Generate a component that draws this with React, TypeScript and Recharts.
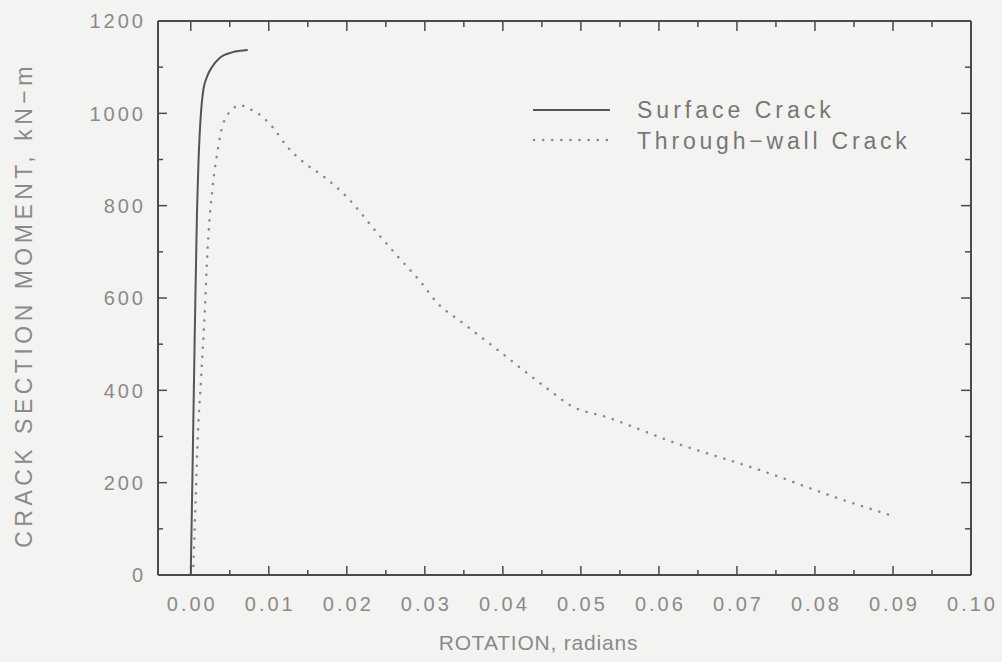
import React from 'react';
import { LineChart, Line, XAxis, YAxis, Legend } from 'recharts';

const surfaceRot = [0, 0.0002, 0.0005, 0.0008, 0.001, 0.0013, 0.0016, 0.0021, 0.0027, 0.0037, 0.0053, 0.0073];
const surfaceMoment = [0, 200, 510, 790, 900, 1000, 1050, 1080, 1100, 1120, 1132, 1137];

const throughRot = [
  0.0003, 0.0006, 0.0009, 0.0013, 0.0017, 0.0022, 0.0028, 0.0035, 0.0041, 0.0053, 0.0063, 0.0073, 0.0086,
  0.0105, 0.0124, 0.0146, 0.0168, 0.02, 0.0238, 0.0267, 0.0296, 0.0315, 0.0347, 0.039, 0.0456, 0.0488,
  0.0533, 0.0618, 0.073, 0.0832, 0.09,
];
const throughMoment = [
  0, 150, 300, 420, 540, 720, 840, 925, 975, 1008, 1018, 1011, 1000, 970, 927, 892, 866, 819, 743, 687, 632,
  591, 548, 492, 405, 366, 342, 288, 227, 165, 128,
];

const xMajor = [0, 0.01, 0.02, 0.03, 0.04, 0.05, 0.06, 0.07, 0.08, 0.09, 0.1];
const xMinor = [0.005, 0.015, 0.025, 0.035, 0.045, 0.055, 0.065, 0.075, 0.085, 0.095];
const yMajor = [0, 200, 400, 600, 800, 1000, 1200];
const yMinor = [100, 300, 500, 700, 900, 1100];

const surfaceData = surfaceRot.map((r, i) => ({ r, m: surfaceMoment[i] }));
const throughData = throughRot.map((r, i) => ({ r, m: throughMoment[i] }));

const FRAME = '#4a4a4a';
const TEXT = '#8a8a8a';
const FONT = '"Liberation Sans", Arial, sans-serif';

const isMajorX = (v: number) => Math.abs(v * 100 - Math.round(v * 100)) < 1e-6;
const isMajorY = (v: number) => v % 200 === 0;

function BottomTick(props: any) {
  const { x, y, payload } = props;
  const major = isMajorX(payload.value);
  const axisY = y - 21;
  return (
    <g>
      <line x1={x} y1={axisY} x2={x} y2={axisY - (major ? 9 : 5)} stroke={FRAME} strokeWidth={1.5} />
      {major && (
        <text x={x} y={y} dx={1.5} dy="0.75em" textAnchor="middle" fill={TEXT} fontSize={20} letterSpacing={3} fontFamily={FONT}>
          {payload.value.toFixed(2)}
        </text>
      )}
    </g>
  );
}

function TopTick(props: any) {
  const { x, y, payload } = props;
  const major = isMajorX(payload.value);
  const axisY = y + 1;
  return <line x1={x} y1={axisY} x2={x} y2={axisY + (major ? 9 : 5)} stroke={FRAME} strokeWidth={1.5} />;
}

function LeftTick(props: any) {
  const { x, y, payload } = props;
  const major = isMajorY(payload.value);
  const axisX = x + 15;
  return (
    <g>
      <line x1={axisX} y1={y} x2={axisX + (major ? 9 : 5)} y2={y} stroke={FRAME} strokeWidth={1.5} />
      {major && (
        <text x={x} y={y} dx={3} dy="0.36em" textAnchor="end" fill={TEXT} fontSize={20} letterSpacing={3} fontFamily={FONT}>
          {payload.value}
        </text>
      )}
    </g>
  );
}

function RightTick(props: any) {
  const { x, y, payload } = props;
  const major = isMajorY(payload.value);
  const axisX = x - 1;
  return <line x1={axisX} y1={y} x2={axisX - (major ? 9 : 5)} y2={y} stroke={FRAME} strokeWidth={1.5} />;
}

function LegendBox() {
  return (
    <svg width={420} height={70}>
      <line x1={3} y1={15} x2={80} y2={15} stroke="#555" strokeWidth={2} />
      <text x={107} y={15} dy="0.36em" fill="#777" fontSize={23} letterSpacing={4} fontFamily={FONT}>
        Surface Crack
      </text>
      <line x1={4} y1={45} x2={78} y2={45} stroke="#888" strokeWidth={2.5} strokeDasharray="0.1 9" strokeLinecap="round" />
      <text x={107} y={46} dy="0.36em" fill="#777" fontSize={23} letterSpacing={3.8} fontFamily={FONT}>
        Through−wall Crack
      </text>
    </svg>
  );
}

function YLabel(props: any) {
  const { viewBox } = props;
  const cx = viewBox.x + 24;
  const cy = viewBox.y + viewBox.height / 2 + 7;
  return (
    <text x={cx} y={cy} transform={`rotate(-90 ${cx} ${cy})`} textAnchor="middle" dy="0.36em" fill={TEXT} fontSize={23} letterSpacing={4.5} fontFamily={FONT}>
      CRACK SECTION MOMENT, kN−m
    </text>
  );
}

function XLabel(props: any) {
  const { viewBox } = props;
  const cx = viewBox.x + viewBox.width / 2 - 26;
  const cy = viewBox.y + 67;
  return (
    <text x={cx} y={cy} textAnchor="middle" dy="0.36em" fill={TEXT} fontSize={21} letterSpacing={0.8} fontFamily={FONT}>
      ROTATION, radians
    </text>
  );
}

export default function App() {
  const xTicks = xMajor.concat(xMinor);
  const yTicks = yMajor.concat(yMinor);
  return (
    <div style={{ position: 'absolute', left: 0, top: 0, width: 1002, height: 662, background: '#f3f3f1' }}>
      <LineChart width={1002} height={662} data={surfaceData} margin={{ top: 20, right: 30, bottom: 0, left: 0 }}>
        <XAxis
          xAxisId="bottom"
          type="number"
          dataKey="r"
          orientation="bottom"
          domain={[-0.0042, 0.1]}
          allowDataOverflow
          ticks={xTicks}
          interval={0}
          height={87}
          tickSize={0}
          tickMargin={21}
          tickLine={false}
          axisLine={{ stroke: FRAME, strokeWidth: 2 }}
          tick={<BottomTick />}
          label={<XLabel />}
        />
        <XAxis
          xAxisId="top"
          type="number"
          dataKey="r"
          orientation="top"
          domain={[-0.0042, 0.1]}
          allowDataOverflow
          ticks={xTicks}
          interval={0}
          height={1}
          tickSize={0}
          tickMargin={0}
          tickLine={false}
          axisLine={{ stroke: FRAME, strokeWidth: 2 }}
          tick={<TopTick />}
        />
        <YAxis
          yAxisId="left"
          type="number"
          orientation="left"
          domain={[0, 1200]}
          allowDataOverflow
          ticks={yTicks}
          interval={0}
          width={158}
          tickSize={0}
          tickMargin={15}
          tickLine={false}
          axisLine={{ stroke: FRAME, strokeWidth: 2 }}
          tick={<LeftTick />}
          label={<YLabel />}
        />
        <YAxis
          yAxisId="right"
          type="number"
          orientation="right"
          domain={[0, 1200]}
          allowDataOverflow
          ticks={yTicks}
          interval={0}
          width={1}
          tickSize={0}
          tickMargin={0}
          tickLine={false}
          axisLine={{ stroke: FRAME, strokeWidth: 2 }}
          tick={<RightTick />}
        />
        <Legend
          layout="vertical"
          align="center"
          verticalAlign="middle"
          content={<LegendBox />}
          wrapperStyle={{ left: 530, top: 95, width: 420, height: 70 }}
        />
        <Line
          xAxisId="bottom"
          yAxisId="left"
          data={surfaceData}
          dataKey="m"
          name="Surface Crack"
          type="monotone"
          stroke="#555"
          strokeWidth={2}
          dot={false}
          isAnimationActive={false}
        />
        <Line
          xAxisId="bottom"
          yAxisId="left"
          data={throughData}
          dataKey="m"
          name="Through-wall Crack"
          type="monotone"
          stroke="#888"
          strokeWidth={2.5}
          strokeDasharray="0.1 9"
          strokeLinecap="round"
          dot={false}
          isAnimationActive={false}
        />
      </LineChart>
    </div>
  );
}
